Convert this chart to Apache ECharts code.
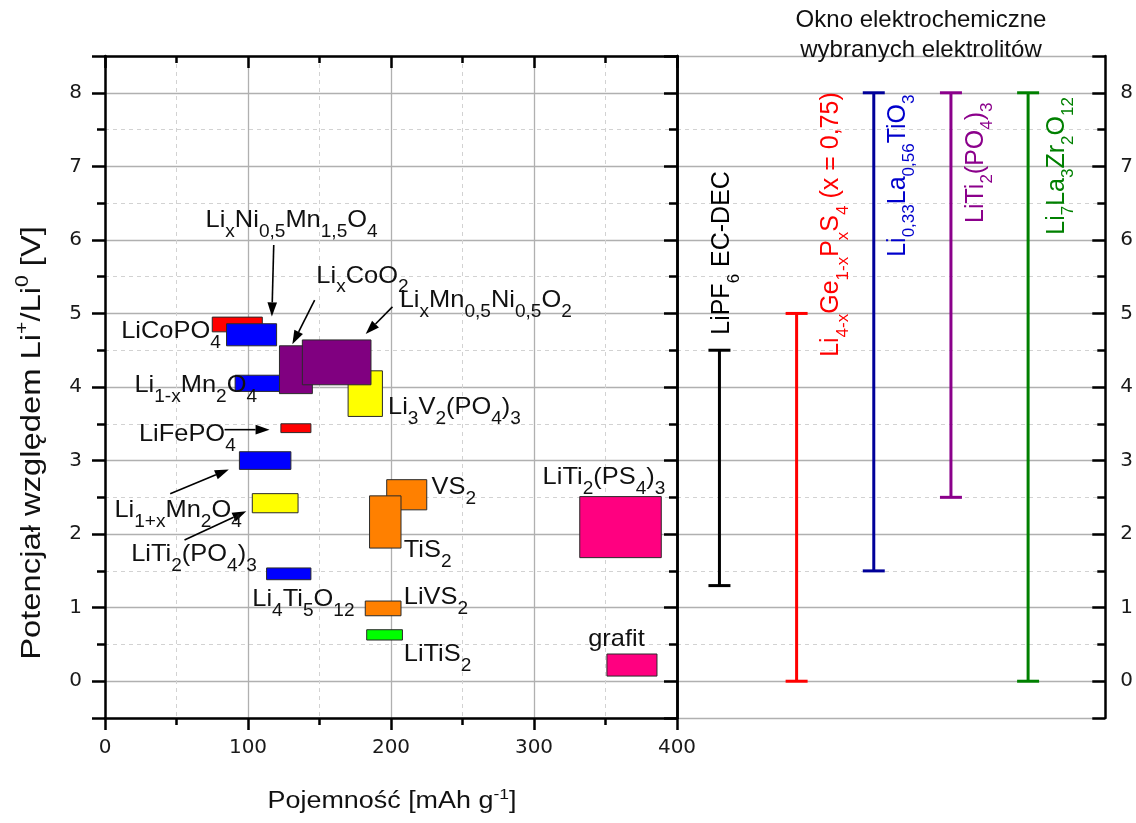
<!DOCTYPE html>
<html>
<head>
<meta charset="utf-8">
<script src="https://cdn.jsdelivr.net/npm/echarts@6/dist/echarts.min.js"></script>
<style>html,body{margin:0;padding:0;background:#fff}#chart{width:1136px;height:823px}</style>
</head>
<body>
<div id="chart"></div>
<script>
// ---------- data ----------
const capacityTicks = [0, 100, 200, 300, 400];
const potentialTickLabels = ['0', '1', '2', '3', '4', '5', '6', '7', '8'];

// electrode materials (boxes): capacity [mAh/g] and potential [V] ranges, in drawing order
const boxNames = ['LiCoPO4', 'LixNi0,5Mn1,5O4', 'Li1-xMn2O4', 'Li3V2(PO4)3', 'LixCoO2', 'LixMn0,5Ni0,5O2',
  'LiFePO4', 'Li1+xMn2O4', 'LiTi2(PO4)3', 'Li4Ti5O12', 'VS2', 'TiS2', 'LiVS2', 'LiTiS2', 'LiTi2(PS4)3', 'grafit'];
const capacityMin = [75, 85, 91, 170, 122, 138, 123, 94, 103, 113, 197, 185, 182, 183, 332, 351];
const capacityMax = [110, 120, 125, 194, 145, 186, 144, 130, 135, 144, 225, 207, 207, 208, 389, 386];
const potentialMin = [4.75, 4.56, 3.94, 3.60, 3.91, 4.03, 3.38, 2.88, 2.29, 1.38, 2.33, 1.81, 0.89, 0.56, 1.68, 0.07];
const potentialMax = [4.95, 4.86, 4.16, 4.22, 4.56, 4.64, 3.50, 3.12, 2.55, 1.54, 2.74, 2.52, 1.09, 0.70, 2.51, 0.37];

// annotation texts and their anchors (left edge, middle), in data units
const labelTexts = ['Li_{x}Ni_{0,5}Mn_{1,5}O_{4}', 'Li_{x}CoO_{2}', 'Li_{x}Mn_{0,5}Ni_{0,5}O_{2}', 'LiCoPO_{4}',
  'Li_{1-x}Mn_{2}O_{4}', 'LiFePO_{4}', 'Li_{1+x}Mn_{2}O_{4}', 'LiTi_{2}(PO_{4})_{3}', 'Li_{4}Ti_{5}O_{12}',
  'VS_{2}', 'TiS_{2}', 'LiVS_{2}', 'LiTiS_{2}', 'LiTi_{2}(PS_{4})_{3}', 'grafit', 'Li_{3}V_{2}(PO_{4})_{3}'];
const labelCapacity = [70.3, 147.8, 206.1, 11.3, 20.6, 23.7, 6.6, 18.3, 103, 228.3, 208.9, 208.9, 208.9, 306, 337.9, 197.9];
const labelPotential = [6.26, 5.51, 5.18, 4.75, 4.02, 3.36, 2.32, 1.72, 1.11, 2.64, 1.78, 1.14, 0.36, 2.77, 0.57, 3.72];

// arrows: from (capacity, potential) to (capacity, potential)
const arrowFromCapacity = [118, 146.6, 201, 83.6, 45.6, 55.6];
const arrowFromPotential = [5.93, 5.18, 5.09, 3.42, 2.55, 1.92];
const arrowToCapacity = [116.7, 131, 182.3, 115.1, 86.6, 98.8];
const arrowToPotential = [4.96, 4.58, 4.72, 3.42, 2.88, 2.31];

// electrochemical windows of electrolytes
const electrolyteNames = ['LiPF_{6} EC-DEC', 'Li_{4-x}Ge_{1-x}P_{x}S_{4} (x = 0,75)', 'Li_{0,33}La_{0,56}TiO_{3}',
  'LiTi_{2}(PO_{4})_{3}', 'Li_{7}La_{3}Zr_{2}O_{12}'];
const electrolytePos = [1, 2, 3, 4, 5];
const windowMin = [1.3, 0, 1.5, 2.5, 0];
const windowMax = [4.5, 5, 8, 8, 8];
const electrolyteLabelPos = [1.04, 2.45, 3.31, 4.32, 5.37];
const electrolyteLabelStart = [4.71, 4.41, 5.77, 6.23, 6.07];

// ---------- styles ----------
const boxColor = {
  'LiCoPO4': '#ff0000', 'LixNi0,5Mn1,5O4': '#0000ff', 'Li1-xMn2O4': '#0000ff', 'Li3V2(PO4)3': '#ffff00',
  'LixCoO2': '#800080', 'LixMn0,5Ni0,5O2': '#800080', 'LiFePO4': '#ff0000', 'Li1+xMn2O4': '#0000ff',
  'LiTi2(PO4)3': '#ffff00', 'Li4Ti5O12': '#0000ff', 'VS2': '#ff8000', 'TiS2': '#ff8000', 'LiVS2': '#ff8000',
  'LiTiS2': '#00ff00', 'LiTi2(PS4)3': '#ff0080', 'grafit': '#ff0080'
};
const barColors = ['#000000', '#ff0000', '#000099', '#8b008b', '#008000'];
const labelColors = ['#000000', '#ff0000', '#0000cc', '#8b008b', '#008000'];
const SANS = 'Liberation Sans, Arial, sans-serif';
const TICKFONT = 'DejaVu Sans, sans-serif';

function toRich(s) {
  let out = '', last = 0, m;
  const re = /([_^])\{([^}]*)\}/g;
  while ((m = re.exec(s))) {
    if (m.index > last) out += '{n|' + s.slice(last, m.index) + '}';
    out += '{' + (m[1] === '_' ? 's' : 'p') + '|' + m[2] + '}';
    last = re.lastIndex;
  }
  if (last < s.length) out += '{n|' + s.slice(last) + '}';
  return out;
}
function richStyles(fs, fam, subRatio) {
  const sf = Math.round(fs * (subRatio || 0.66));
  const lh = Math.round(fs * 1.2);
  const sh = Math.round(fs * 0.25);
  const ph = Math.round(fs * 0.6);
  return {
    n: { fontSize: fs, fontFamily: fam, lineHeight: lh, verticalAlign: 'middle' },
    s: { fontSize: sf, fontFamily: fam, height: sh, lineHeight: sh, verticalAlign: 'bottom' },
    p: { fontSize: Math.round(fs * 0.66), fontFamily: fam, height: ph, lineHeight: ph, verticalAlign: 'top' }
  };
}

const axisLineStyle = { color: '#000', width: 2.5 };
const majorGrid = { color: '#b0b0b0', width: 1.3 };
const minorGrid = { color: '#d2d2d2', width: 1, type: [4, 4] };
const intLabel = v => (Math.abs(v - Math.round(v)) < 1e-9 && v >= 0 && v <= 8) ? potentialTickLabels[Math.round(v)] : '';

function yAxisBase(grid, pos) {
  return {
    gridIndex: grid, type: 'value', position: pos, min: -0.5, max: 8.5, splitNumber: 9,
    axisLine: { show: true, onZero: false, lineStyle: axisLineStyle },
    axisTick: { show: true, length: 13, lineStyle: { color: '#000', width: 2.5 } },
    minorTick: { show: true, splitNumber: 2, length: 8, lineStyle: { color: '#000', width: 2.5 } },
    axisLabel: { show: false },
    splitLine: { show: false },
    minorSplitLine: { show: false }
  };
}

const yAxes = [
  Object.assign(yAxisBase(0, 'left'), {
    axisLabel: { show: true, margin: 23, formatter: intLabel, fontSize: 20, fontFamily: TICKFONT, color: '#1a1a1a' },
    splitLine: { show: true, lineStyle: majorGrid },
    minorSplitLine: { show: true, lineStyle: minorGrid }
  }),
  Object.assign(yAxisBase(0, 'right'), { axisTick: { show: false }, minorTick: { show: false } }),
  Object.assign(yAxisBase(1, 'left'), {
    splitLine: { show: true, lineStyle: majorGrid },
    minorSplitLine: { show: true, lineStyle: minorGrid }
  }),
  Object.assign(yAxisBase(1, 'right'), {
    axisTick: { show: true, inside: true, length: 13, lineStyle: { color: '#000', width: 2.5 } },
    minorTick: { show: true, splitNumber: 2, length: 8, lineStyle: { color: '#000', width: 2.5 } },
    axisLabel: { show: true, margin: 15, formatter: intLabel, fontSize: 20, fontFamily: TICKFONT, color: '#1a1a1a' }
  })
];

const xAxes = [
  {
    gridIndex: 0, type: 'value', position: 'bottom', min: capacityTicks[0], max: capacityTicks[capacityTicks.length - 1], interval: 100,
    axisLine: { show: true, onZero: false, lineStyle: axisLineStyle },
    axisTick: { show: true, length: 12, lineStyle: { color: '#000', width: 2.5 } },
    minorTick: { show: true, splitNumber: 2, length: 7, lineStyle: { color: '#000', width: 2.5 } },
    axisLabel: { show: true, margin: 20, fontSize: 20, fontFamily: TICKFONT, color: '#1a1a1a',
      formatter: v => capacityTicks.indexOf(v) >= 0 ? String(v) : '' },
    splitLine: { show: true, lineStyle: majorGrid },
    minorSplitLine: { show: true, lineStyle: minorGrid }
  },
  {
    gridIndex: 0, type: 'value', position: 'top', min: capacityTicks[0], max: capacityTicks[capacityTicks.length - 1], interval: 100,
    axisLine: { show: true, onZero: false, lineStyle: axisLineStyle },
    axisTick: { show: true, inside: true, length: 12, lineStyle: { color: '#000', width: 2.5 } },
    minorTick: { show: true, splitNumber: 2, length: 7, lineStyle: { color: '#000', width: 2.5 } },
    axisLabel: { show: false }, splitLine: { show: false }
  },
  { gridIndex: 1, type: 'value', min: 0.45, max: 6, show: false }
];

const boxData = boxNames.map((n, i) => [capacityMin[i], potentialMin[i], capacityMax[i], potentialMax[i]]);
const labelData = labelTexts.map((t, i) => [labelCapacity[i], labelPotential[i]]);
const arrowData = arrowFromCapacity.map((c, i) => [c, arrowFromPotential[i], arrowToCapacity[i], arrowToPotential[i]]);
const barData = electrolytePos.map((p, i) => [p, windowMin[i], windowMax[i]]);
const elLabelData = electrolyteLabelPos.map((p, i) => [p, electrolyteLabelStart[i]]);

const annRich = richStyles(24, SANS, 0.75);
const elRich = richStyles(25, SANS, 0.66);

const series = [
  {
    name: 'boxes', type: 'custom', xAxisIndex: 0, yAxisIndex: 0, data: boxData, z: 3,
    encode: { x: [0, 2], y: [1, 3] },
    renderItem: (params, api) => {
      const a = api.coord([api.value(0), api.value(3)]);
      const b = api.coord([api.value(2), api.value(1)]);
      return { type: 'rect', shape: { x: a[0], y: a[1], width: b[0] - a[0], height: b[1] - a[1] },
        style: { fill: boxColor[boxNames[params.dataIndex]], stroke: '#2a2a2a', lineWidth: 1 } };
    }
  },
  {
    name: 'arrows', type: 'custom', xAxisIndex: 0, yAxisIndex: 0, data: arrowData, z: 4,
    encode: { x: [0, 2], y: [1, 3] },
    renderItem: (params, api) => {
      const p1 = api.coord([api.value(0), api.value(1)]);
      const p2 = api.coord([api.value(2), api.value(3)]);
      const dx = p2[0] - p1[0], dy = p2[1] - p1[1], L = Math.hypot(dx, dy), ux = dx / L, uy = dy / L;
      const hl = 14, hw = 4.8;
      const bx = p2[0] - ux * hl, by = p2[1] - uy * hl;
      return { type: 'group', children: [
        { type: 'line', shape: { x1: p1[0], y1: p1[1], x2: bx, y2: by }, style: { stroke: '#000', lineWidth: 1.6 } },
        { type: 'polygon', shape: { points: [[p2[0], p2[1]], [bx - uy * hw, by + ux * hw], [bx + uy * hw, by - ux * hw]] },
          style: { fill: '#000' } }
      ] };
    }
  },
  {
    name: 'labels', type: 'custom', xAxisIndex: 0, yAxisIndex: 0, data: labelData, z: 5,
    renderItem: (params, api) => {
      const p = api.coord([api.value(0), api.value(1)]);
      return { type: 'text', x: p[0], y: p[1], scaleX: 1.06,
        style: { text: toRich(labelTexts[params.dataIndex]), rich: annRich, fill: '#111',
          fontSize: 24, fontFamily: SANS, align: 'left', verticalAlign: 'middle', x: 0, y: 0 } };
    }
  },
  {
    name: 'windows', type: 'custom', xAxisIndex: 2, yAxisIndex: 2, data: barData, z: 3,
    encode: { x: 0, y: [1, 2] },
    renderItem: (params, api) => {
      const top = api.coord([api.value(0), api.value(2)]);
      const bot = api.coord([api.value(0), api.value(1)]);
      const c = barColors[params.dataIndex], w = 11;
      const st = { stroke: c, lineWidth: 3 };
      return { type: 'group', children: [
        { type: 'line', shape: { x1: top[0], y1: top[1], x2: bot[0], y2: bot[1] }, style: st },
        { type: 'line', shape: { x1: top[0] - w, y1: top[1], x2: top[0] + w, y2: top[1] }, style: st },
        { type: 'line', shape: { x1: bot[0] - w, y1: bot[1], x2: bot[0] + w, y2: bot[1] }, style: st }
      ] };
    }
  },
  {
    name: 'windowLabels', type: 'custom', xAxisIndex: 2, yAxisIndex: 2, data: elLabelData, z: 5,
    renderItem: (params, api) => {
      const p = api.coord([api.value(0), api.value(1)]);
      return { type: 'text', x: p[0], y: p[1], rotation: Math.PI / 2,
        style: { text: toRich(electrolyteNames[params.dataIndex]), rich: elRich, fill: labelColors[params.dataIndex],
          fontSize: 25, fontFamily: SANS, align: 'left', verticalAlign: 'middle', x: 0, y: 0 } };
    }
  }
];

const chart = echarts.init(document.getElementById('chart'), null, { renderer: 'canvas' });
chart.setOption({
  animation: false,
  backgroundColor: '#ffffff',
  grid: [
    { left: 105, right: 459, top: 56, bottom: 105, containLabel: false },
    { left: 677, right: 28, top: 56, bottom: 105, containLabel: false }
  ],
  xAxis: xAxes,
  yAxis: yAxes,
  series: series,
  graphic: [
    { type: 'text', x: 921, y: 35, z: 10,
      style: { text: 'Okno elektrochemiczne\nwybranych elektrolitów', fill: '#111', fontSize: 24, fontFamily: SANS,
        lineHeight: 30, align: 'center', verticalAlign: 'middle' } },
    { type: 'text', x: 392, y: 802, scaleX: 1.17, z: 10,
      style: { text: toRich('Pojemność [mAh g^{-1}]'), rich: richStyles(23, SANS), fill: '#111', fontSize: 23,
        fontFamily: SANS, align: 'center', verticalAlign: 'middle' } },
    { type: 'text', x: 32, y: 443, rotation: Math.PI / 2, scaleX: 1.17, z: 10,
      style: { text: toRich('Potencjał względem Li^{+}/Li^{0} [V]'), rich: richStyles(28, SANS), fill: '#111', fontSize: 28,
        fontFamily: SANS, align: 'center', verticalAlign: 'middle' } }
  ]
});
</script>
</body>
</html>
